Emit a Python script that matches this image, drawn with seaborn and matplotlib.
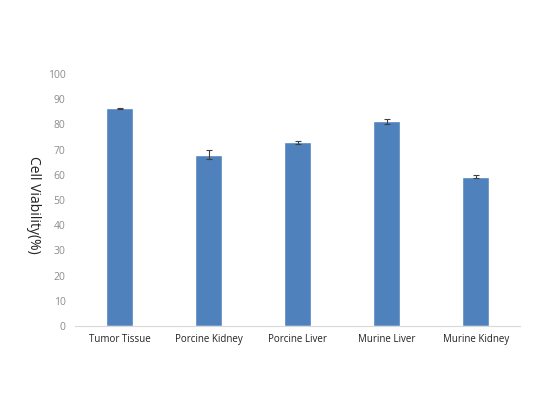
import matplotlib
matplotlib.use("Agg")
import matplotlib.pyplot as plt
import seaborn as sns
import pandas as pd

# ----- Data -----
tissues = ["Tumor Tissue", "Porcine Kidney", "Porcine Liver", "Murine Liver", "Murine Kidney"]
viability = [86.5, 68.0, 72.9, 81.2, 59.2]
errors = [0.2, 1.9, 0.7, 1.0, 0.6]
y_ticks = [0, 10, 20, 30, 40, 50, 60, 70, 80, 90, 100]

df = pd.DataFrame({"tissue": tissues, "viability": viability})

sns.set_style("white")
plt.rcParams["font.family"] = ["Open Sans", "DejaVu Sans"]

fig = plt.figure(figsize=(5.33, 4.0), dpi=100)
ax = fig.add_axes([0.141, 0.185, 0.835, 0.63])

sns.barplot(data=df, x="tissue", y="viability", color="#4F81BD",
            saturation=1, width=0.3, ax=ax)
ax.errorbar(range(len(tissues)), viability, yerr=errors, fmt="none",
            ecolor="#404040", elinewidth=0.8, capsize=2.5, capthick=0.8)

ax.set_xlim(-0.5, len(tissues) - 0.5)
ax.set_ylim(0, 100)
ax.set_yticks(y_ticks)
ax.tick_params(axis="y", colors="#8c8c8c", labelsize=7.5, length=0, pad=7)
ax.tick_params(axis="x", colors="black", labelsize=7, length=0, pad=6)
for lbl in ax.get_xticklabels():
    lbl.set_color("#222222")

for s in ["top", "right", "left"]:
    ax.spines[s].set_visible(False)
ax.spines["bottom"].set_color("#d9d9d9")
ax.spines["bottom"].set_linewidth(0.8)

ax.set_xlabel("")
ax.set_ylabel("Cell Viability(%)", fontsize=10, rotation=-90, color="#222222",
              va="center", ha="center")
ax.yaxis.set_label_coords(-0.094, 0.48)

fig.savefig("out.png", dpi=100)
